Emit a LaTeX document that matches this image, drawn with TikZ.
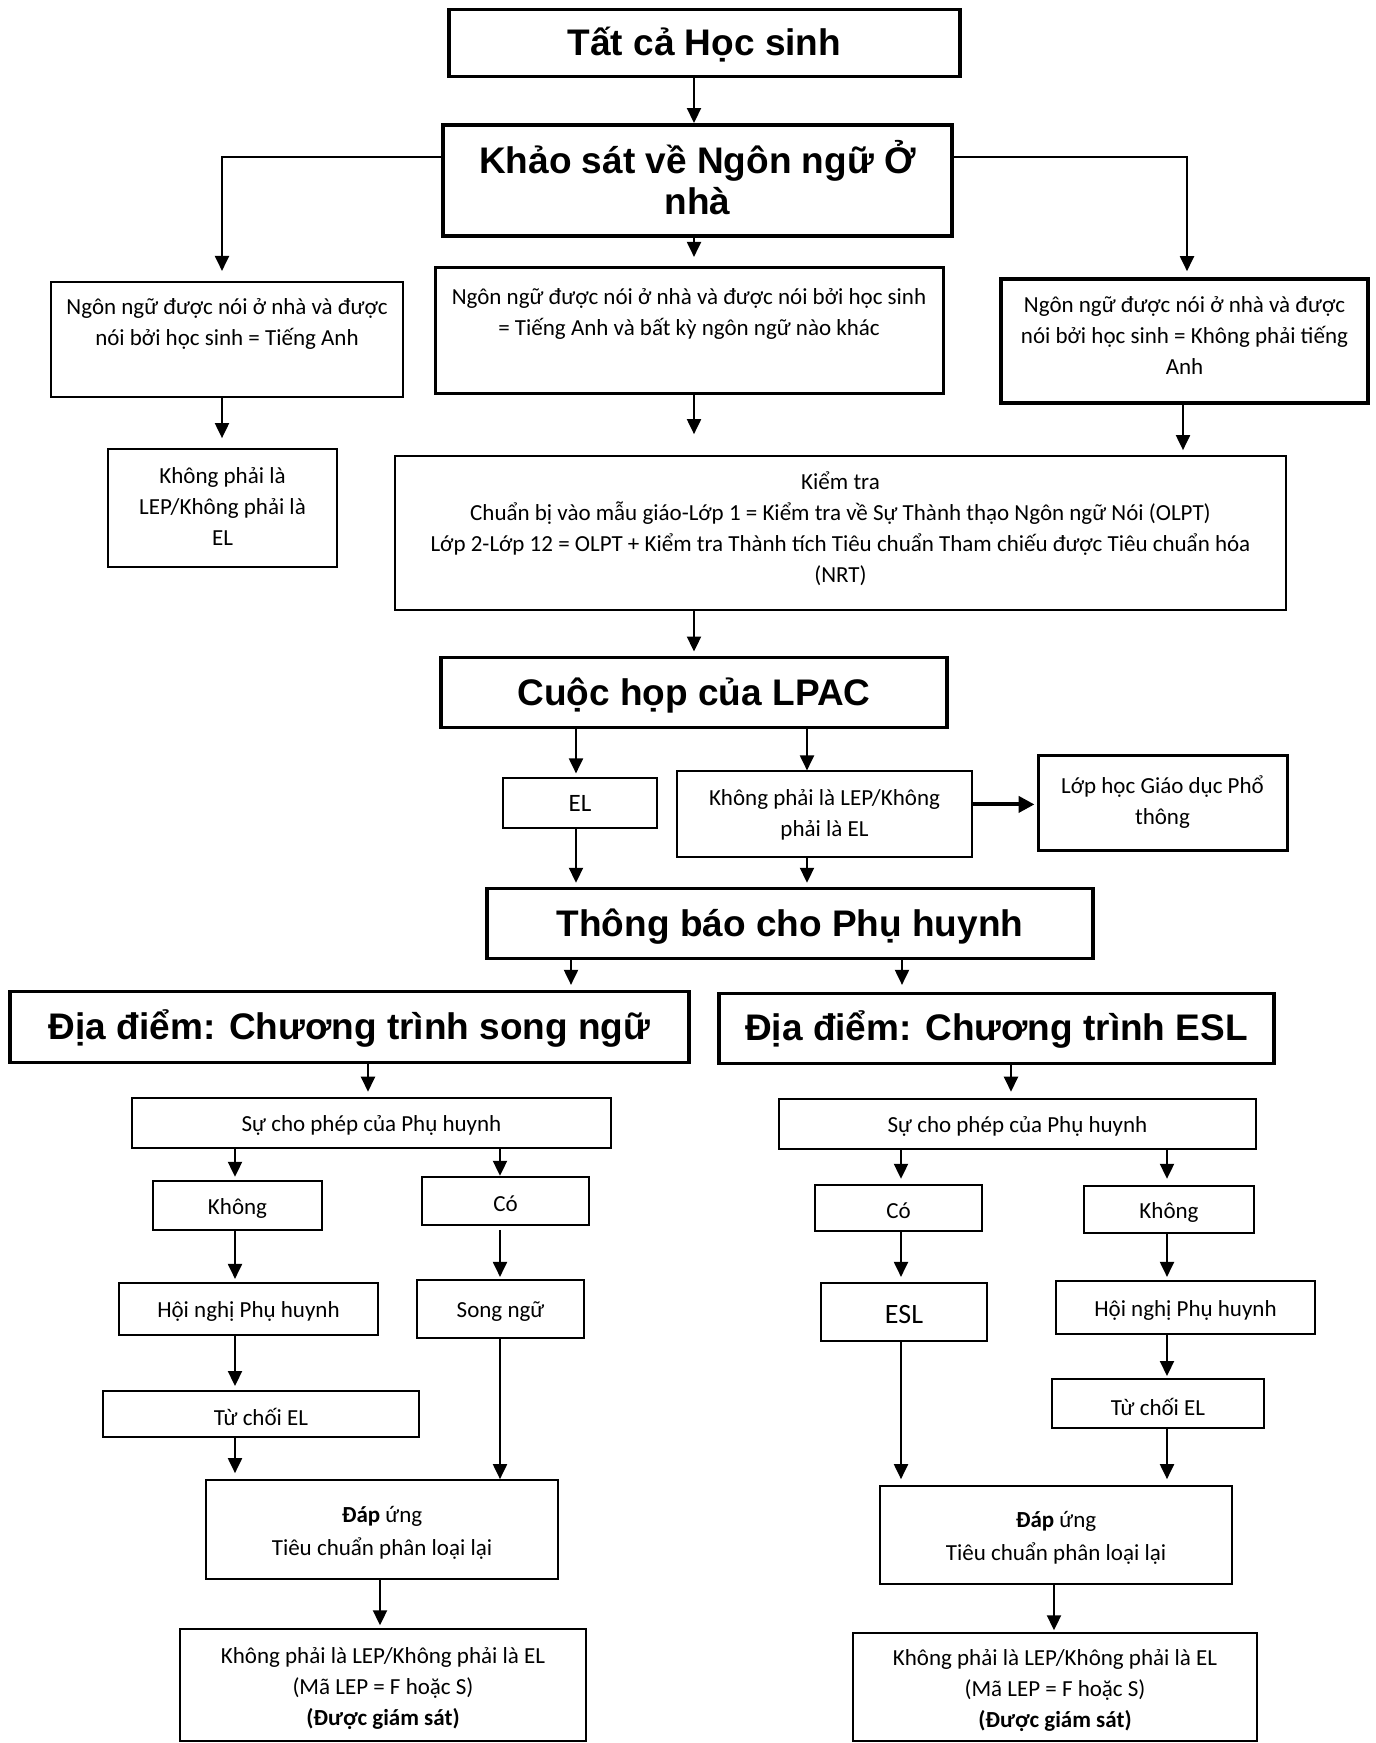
\documentclass[tikz,border=0pt]{standalone}
\usepackage{fontspec}
\setmainfont{Carlito}
\newfontfamily\titlefam{Liberation Sans}
\usetikzlibrary{arrows.meta}
\newcommand\bodyf{\fontsize{23}{31}\selectfont}
\newcommand\titlef{\titlefam\bfseries\fontsize{37}{41}\selectfont}
% box by corners, with its text in a node of its own, set #1 lower than the centre
\newcommand\bxd[8]{\node[#2, minimum width={#6-#4}, minimum height={#7-#5}] (#3) at ({(#4+#6)/2},{(#5+#7)/2}) {};
  \node[#2 txt] (#3t) at ({(#4+#6)/2},{(#5+#7)/2+#1}) {#8};}
\newcommand\bx{\bxd{3}}
\begin{document}
\begin{tikzpicture}[x=1pt,y=-1pt,
  box/.style={draw, rectangle, inner sep=0pt},
  thinbox/.style={box, line width=2pt},
  medbox/.style={box, line width=3pt},
  titlebox/.style={box, line width=3.5pt},
  txt/.style={inner sep=0pt, align=center, font=\bodyf},
  thinbox txt/.style={txt},
  medbox txt/.style={txt},
  titlebox txt/.style={txt, font=\titlef},
  arr/.style={line width=2pt, -{Triangle[length=15pt,width=14pt]}},
  thickarr/.style={line width=4pt, -{Triangle[length=16pt,width=16pt]}}]
\useasboundingbox[fill=white] (0,0) rectangle (1376,1743);
\begin{scope}[y=-1.001pt, shift={(0,1.6)}]
% column coordinates
\coordinate (k694) at (694,0);
\coordinate (k222) at (222,0);
\coordinate (k1187) at (1187,0);
\coordinate (k1183) at (1183,0);
\coordinate (k576) at (576,0);
\coordinate (k807) at (807,0);
\coordinate (k571) at (571,0);
\coordinate (k902) at (902,0);
\coordinate (k368) at (368,0);
\coordinate (k1011) at (1011,0);
\coordinate (k235) at (235,0);
\coordinate (k500) at (500,0);
\coordinate (k380) at (380,0);
\coordinate (k901) at (901,0);
\coordinate (k1167) at (1167,0);
\coordinate (k1054) at (1054,0);
\coordinate (ky155) at (0,155);
\coordinate (ky802) at (0,802);

% boxes
\bxd{1}{titlebox}{top}{449}{8}{960}{75}{Tất cả Học sinh}
\bxd{-3}{titlebox}{khao}{443}{123}{952}{234}{Khảo sát về Ngôn ngữ Ở\\nhà}
\node[thinbox, minimum width=352, minimum height=115] (bL) at (227,337.5) {};
\node[txt] (bLt) at (227,322.5) {Ngôn ngữ được nói ở nhà và được\\nói bởi học sinh = Tiếng Anh};
\node[medbox, minimum width=508, minimum height=126] (bC) at (689,329) {};
\node[txt] (bCt) at (689,312.5) {Ngôn ngữ được nói ở nhà và được nói bởi học sinh\\= Tiếng Anh và bất kỳ ngôn ngữ nào khác};
\node[titlebox, minimum width=367, minimum height=124] (bR) at (1184.5,339) {};
\node[txt] (bRt) at (1184.5,334) {Ngôn ngữ được nói ở nhà và được\\nói bởi học sinh = Không phải tiếng\\Anh};
\bxd{-2}{thinbox}{kL}{108}{447}{337}{565}{Không phải là\\LEP/Không phải là\\EL}
\node[thinbox, minimum width=891, minimum height=154] (kiem) at (840.5,531) {};
\node[txt] (kiemt) at (840.5,527) {Kiểm tra\\Chuẩn bị vào mẫu giáo-Lớp 1 = Kiểm tra về Sự Thành thạo Ngôn ngữ Nói (OLPT)\\Lớp 2-Lớp 12 = OLPT + Kiểm tra Thành tích Tiêu chuẩn Tham chiếu được Tiêu chuẩn hóa\\(NRT)};
\bx{titlebox}{lpac}{441}{655}{947}{725}{Cuộc họp của LPAC}
\bxd{0}{thinbox}{el}{503}{776}{657}{826}{\fontsize{25}{31}\selectfont EL}
\bxd{0}{thinbox}{knl}{677}{769}{972}{855}{Không phải là LEP/Không\\phải là EL}
\bxd{-0.5}{medbox}{lop}{1038}{753}{1287}{848}{Lớp học Giáo dục Phổ\\thông}
\bx{titlebox}{tb}{487}{886}{1093}{956}{Thông báo cho Phụ huynh}
\bxd{1}{titlebox}{ddL}{10}{989}{689}{1060}{Địa điểm: Chương trình song ngữ}
\bxd{1}{titlebox}{ddR}{719}{991}{1274}{1061}{Địa điểm: Chương trình ESL}
\bx{thinbox}{spL}{132}{1095}{611}{1145}{Sự cho phép của Phụ huynh}
\bx{thinbox}{spR}{779}{1096}{1256}{1146}{Sự cho phép của Phụ huynh}
\bx{thinbox}{khongL}{153}{1178}{322}{1227}{Không}
\bx{thinbox}{coL}{422}{1174}{589}{1222}{Có}
\bx{thinbox}{hnL}{119}{1280}{378}{1332}{Hội nghị Phụ huynh}
\bx{thinbox}{sn}{417}{1277}{584}{1335}{Song ngữ}
\bx{thinbox}{tcL}{103}{1388}{419}{1434}{Từ chối EL}
\bx{thinbox}{duL}{206}{1477}{558}{1576}{\textbf{Đáp} ứng\\[2pt]Tiêu chuẩn phân loại lại}
\bx{thinbox}{finL}{180}{1626}{586}{1738}{Không phải là LEP/Không phải là EL\\(Mã LEP = F hoặc S)\\\textbf{(Được giám sát)}}
\bx{thinbox}{coR}{815}{1182}{982}{1228}{Có}
\bx{thinbox}{khongR}{1084}{1183}{1254}{1230}{Không}
\bx{thinbox}{esl}{821}{1280}{987}{1338}{\fontsize{28}{31}\selectfont ESL}
\bx{thinbox}{hnR}{1056}{1278}{1315}{1331}{Hội nghị Phụ huynh}
\bx{thinbox}{tcR}{1052}{1376}{1264}{1425}{Từ chối EL}
\bx{thinbox}{duR}{880}{1483}{1232}{1581}{\textbf{Đáp} ứng\\[2pt]Tiêu chuẩn phân loại lại}
\bx{thinbox}{finR}{853}{1630}{1257}{1738}{Không phải là LEP/Không phải là EL\\(Mã LEP = F hoặc S)\\\textbf{(Được giám sát)}}

% connectors
\draw[arr] (top.south -| k694) -- (khao.north -| k694);
\draw[arr, shorten >=10pt] (khao.west |- ky155) -| (bL.north -| k222);
\draw[arr, shorten >=6pt] (khao.east |- ky155) -| (bR.north -| k1187);
\draw[arr, shorten >=9.5pt] (khao.south -| k694) -- (bC.north -| k694);
\draw[arr, shorten >=10pt] (bL.south -| k222) -- (kL.north -| k222);
\draw[arr, shorten >=21pt] (bC.south -| k694) -- (kiem.north -| k694);
\draw[arr, shorten >=5pt] (bR.south -| k1183) -- (kiem.north -| k1183);
\draw[arr, shorten >=4pt] (kiem.south -| k694) -- (lpac.north -| k694);
\draw[arr, shorten >=4pt] (lpac.south -| k576) -- (el.north -| k576);
\draw[arr] (lpac.south -| k807) -- (knl.north -| k807);
\draw[thickarr, shorten >=2pt] (knl.east |- ky802) -- (lop.west |- ky802);
\draw[arr, shorten >=4pt] (el.south -| k576) -- (tb.north -| k576);
\draw[arr, shorten >=4pt] (knl.south -| k807) -- (tb.north -| k807);
\draw[arr, shorten >=5pt] (tb.south -| k571) -- (ddL.north -| k571);
\draw[arr, shorten >=7pt] (tb.south -| k902) -- (ddR.north -| k902);
\draw[arr, shorten >=5pt] (ddL.south -| k368) -- (spL.north -| k368);
\draw[arr, shorten >=6pt] (ddR.south -| k1011) -- (spR.north -| k1011);
\draw[arr, shorten >=3pt] (spL.south -| k235) -- (khongL.north -| k235);
\draw[arr] (spL.south -| k500) -- (coL.north -| k500);
\draw[arr, shorten >=3pt] (khongL.south -| k235) -- (hnL.north -| k235);
\draw[arr, shorten <=4pt, shorten >=2pt] (coL.south -| k500) -- (sn.north -| k500);
\draw[arr, shorten >=4pt] (hnL.south -| k235) -- (tcL.north -| k235);
\draw[arr, shorten >=6pt] (tcL.south -| k235) -- (duL.north -| k235);
\draw[arr] (sn.south -| k500) -- (duL.north -| k500);
\draw[arr, shorten >=3pt] (duL.south -| k380) -- (finL.north -| k380);
\draw[arr, shorten >=5pt] (spR.south -| k901) -- (coR.north -| k901);
\draw[arr, shorten >=6pt] (spR.south -| k1167) -- (khongR.north -| k1167);
\draw[arr, shorten >=5pt] (coR.south -| k901) -- (esl.north -| k901);
\draw[arr, shorten >=3pt] (khongR.south -| k1167) -- (hnR.north -| k1167);
\draw[arr, shorten >=2pt] (hnR.south -| k1167) -- (tcR.north -| k1167);
\draw[arr, shorten >=6pt] (tcR.south -| k1167) -- (duR.north -| k1167);
\draw[arr, shorten >=6pt] (esl.south -| k901) -- (duR.north -| k901);
\draw[arr, shorten >=2pt] (duR.south -| k1054) -- (finR.north -| k1054);
\end{scope}
\end{tikzpicture}
\end{document}
